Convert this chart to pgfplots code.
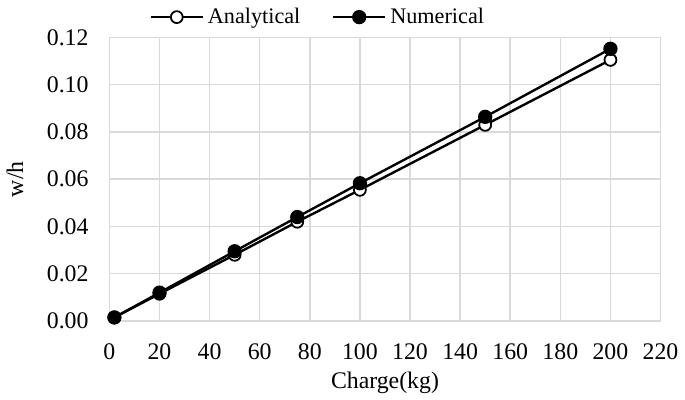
\documentclass[border=0pt]{standalone}
\usepackage{fontspec}
\setmainfont{Liberation Serif}
\usepackage{pgfplots}
\pgfplotsset{compat=1.18}
\definecolor{gridgray}{HTML}{D9D9D9}
\begin{document}
\begin{tikzpicture}
\begin{axis}[
  scale only axis,
  width=278pt, height=143pt,
  xmin=0, xmax=220, ymin=0, ymax=0.12,
  xtick={0,20,...,220},
  ytick={0,0.02,...,0.12},
  grid=major,
  major grid style={gridgray, line width=0.75pt},
  axis line style={gridgray, line width=0.75pt},
  tick style={draw=none},
  font=\fontsize{12}{14}\selectfont,
  /pgf/number format/assume math mode=true,
  yticklabel style={/pgf/number format/fixed, /pgf/number format/precision=2, /pgf/number format/fixed zerofill, xshift=-7pt},
  xticklabel style={yshift=-8pt},
  scaled y ticks=false,
  xlabel={Charge(kg)},
  ylabel={w/h},
  xlabel style={yshift=1pt},
  ylabel style={yshift=5pt},
  legend columns=2,
  legend style={draw=none, fill=none, at={(0.38,1.01)}, anchor=south, font=\fontsize{11.2}{13}\selectfont, /tikz/every even column/.append style={column sep=14pt}},
  legend image code/.code={\draw[mark repeat=2,mark phase=2,#1] plot coordinates {(0cm,0cm)(0.46cm,0cm)(0.92cm,0cm)};},
  legend cell align=left,
]
\addplot[black, line width=1.2pt, mark=*, mark size=3pt, mark options={fill=white, line width=0.9pt}]
 coordinates {(2,0.0015)(20,0.0115)(50,0.028)(75,0.042)(100,0.0555)(150,0.083)(200,0.1105)};
\addlegendentry{Analytical}
\addplot[black, line width=1.2pt, mark=*, mark size=3pt, mark options={fill=black}]
 coordinates {(2,0.0015)(20,0.012)(50,0.0295)(75,0.044)(100,0.0583)(150,0.0864)(200,0.1152)};
\addlegendentry{Numerical}
\end{axis}
\end{tikzpicture}
\end{document}
